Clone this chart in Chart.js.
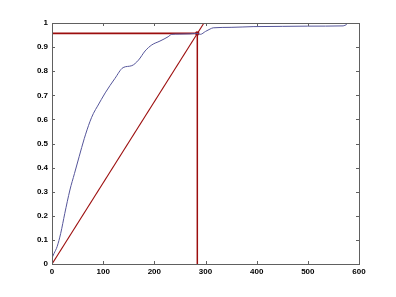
<!DOCTYPE html>
<html>
<head>
<meta charset="utf-8">
<script src="https://cdn.jsdelivr.net/npm/chart.js@4"></script>
<style>
  html, body { margin: 0; padding: 0; background: #fff; }
  canvas { display: block; }
</style>
</head>
<body>
<canvas id="cdfChart" width="396" height="297"></canvas>
<script>
// cumulative curve (blue)
const curveX = [0, 4, 10, 17, 25, 35, 44, 53, 63, 74, 81, 89, 104, 123, 139, 156, 169, 182, 195, 211, 227, 234, 250, 270, 283, 290, 300, 309, 315, 350, 393, 450, 500, 569, 576];
const curveY = [0.025, 0.044, 0.072, 0.127, 0.21, 0.307, 0.376, 0.445, 0.52, 0.59, 0.625, 0.655, 0.71, 0.77, 0.815, 0.823, 0.846, 0.884, 0.909, 0.925, 0.943, 0.953, 0.954, 0.955, 0.957, 0.953, 0.965, 0.975, 0.98, 0.982, 0.985, 0.986, 0.987, 0.988, 0.994];

// red reference lines
const diagX = [0, 297];
const diagY = [0, 1];
const horizX = [0, 284];
const horizY = [0.957, 0.957];
const vertX = [284, 284];
const vertY = [0, 0.957];

const xTicks = [0, 100, 200, 300, 400, 500, 600];
const yTicks = [0, 0.1, 0.2, 0.3, 0.4, 0.5, 0.6, 0.7, 0.8, 0.9, 1];

function toPoints(xs, ys) {
    return xs.map((x, i) => ({ x: x, y: ys[i] }));
}

const boxTicks = {
    id: 'boxTicks',
    afterDraw(chart) {
        const ctx = chart.ctx;
        const a = chart.chartArea;
        const xs = chart.scales.x;
        const ys = chart.scales.y;
        ctx.save();
        ctx.strokeStyle = '#606060';
        ctx.lineWidth = 1;
        ctx.strokeRect(Math.round(a.left) + 0.5, Math.round(a.top) + 0.5, Math.round(a.right - a.left), Math.round(a.bottom - a.top));
        ctx.beginPath();
        xTicks.forEach(v => {
            const px = Math.round(xs.getPixelForValue(v)) + 0.5;
            ctx.moveTo(px, a.bottom); ctx.lineTo(px, a.bottom - 3);
            ctx.moveTo(px, a.top); ctx.lineTo(px, a.top + 3);
        });
        yTicks.forEach(v => {
            const py = Math.round(ys.getPixelForValue(v)) + 0.5;
            ctx.moveTo(a.left, py); ctx.lineTo(a.left + 3, py);
            ctx.moveTo(a.right, py); ctx.lineTo(a.right - 3, py);
        });
        ctx.stroke();
        ctx.restore();
    }
};

const redColor = '#9c0d0d';

new Chart(document.getElementById('cdfChart').getContext('2d'), {
    type: 'scatter',
    data: {
        datasets: [
            {
                data: toPoints(curveX, curveY),
                showLine: true,
                borderColor: '#55559a',
                borderWidth: 1,
                pointRadius: 0,
                cubicInterpolationMode: 'monotone'
            },
            {
                data: toPoints(diagX, diagY),
                showLine: true,
                borderColor: redColor,
                borderWidth: 1.1,
                pointRadius: 0
            },
            {
                data: toPoints(horizX, horizY),
                showLine: true,
                borderColor: redColor,
                borderWidth: 1.6,
                pointRadius: 0
            },
            {
                data: toPoints(vertX, vertY),
                showLine: true,
                borderColor: redColor,
                borderWidth: 1.5,
                pointRadius: 0
            },
            {
                data: [{ x: 284, y: 0.957 }],
                pointRadius: 2,
                pointStyle: 'rect',
                backgroundColor: redColor,
                borderColor: redColor
            }
        ]
    },
    options: {
        responsive: false,
        animation: false,
        devicePixelRatio: 1,
        layout: { padding: { left: 0, top: 23, right: 37, bottom: 0 } },
        plugins: {
            legend: { display: false },
            tooltip: { enabled: false }
        },
        scales: {
            x: {
                type: 'linear',
                min: 0,
                max: 600,
                afterFit: s => { s.height = 33; },
                afterBuildTicks: s => { s.ticks = xTicks.map(v => ({ value: v })); },
                grid: { display: false, drawTicks: false },
                border: { display: false },
                ticks: {
                    padding: 3,
                    color: '#000',
                    font: { family: 'Liberation Sans, Arial, sans-serif', size: 8, weight: 'bold' },
                    maxRotation: 0
                }
            },
            y: {
                min: 0,
                max: 1,
                afterFit: s => { s.width = 52; },
                afterBuildTicks: s => { s.ticks = yTicks.map(v => ({ value: v })); },
                grid: { display: false, drawTicks: false },
                border: { display: false },
                ticks: {
                    padding: 4,
                    color: '#000',
                    font: { family: 'Liberation Sans, Arial, sans-serif', size: 8, weight: 'bold' },
                    callback: v => String(Math.round(v * 10) / 10)
                }
            }
        }
    },
    plugins: [boxTicks]
});
</script>
</body>
</html>
